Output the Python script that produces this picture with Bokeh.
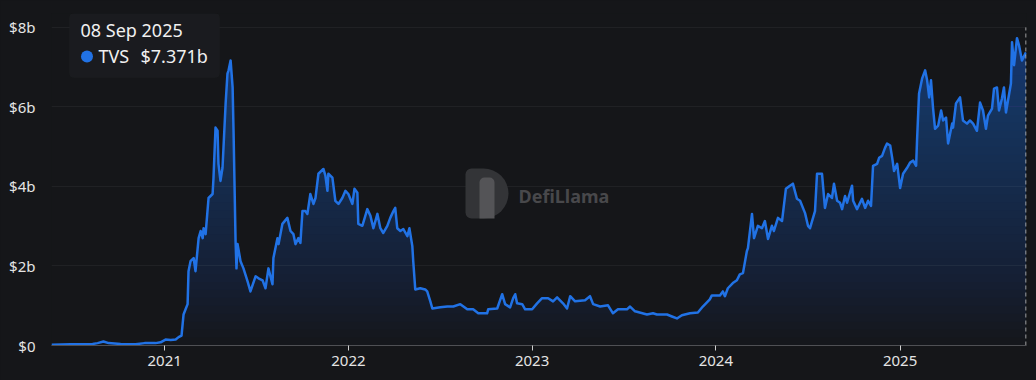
import numpy as np
import pandas as pd
from bokeh.plotting import figure
from bokeh.models import Range1d, FixedTicker, DatetimeTickFormatter, Label, BoxAnnotation
from bokeh.embed import file_html
from bokeh.resources import INLINE

# ---------------- data ----------------
t_year = [
    2020.386, 2020.489, 2020.609, 2020.636, 2020.668, 2020.696, 2020.761, 2020.842, 2020.891, 2020.951,
    2020.978, 2021.005, 2021.033, 2021.060, 2021.076, 2021.092, 2021.103, 2021.114, 2021.125, 2021.130,
    2021.141, 2021.158, 2021.168, 2021.185, 2021.196, 2021.207, 2021.212, 2021.223, 2021.239, 2021.261,
    2021.266, 2021.277, 2021.288, 2021.293, 2021.304, 2021.315, 2021.332, 2021.342, 2021.348, 2021.359,
    2021.370, 2021.375, 2021.386, 2021.391, 2021.397, 2021.413, 2021.429, 2021.451, 2021.467, 2021.495,
    2021.511, 2021.533, 2021.549, 2021.565, 2021.587, 2021.592, 2021.614, 2021.620, 2021.641, 2021.668,
    2021.685, 2021.701, 2021.712, 2021.728, 2021.739, 2021.750, 2021.766, 2021.777, 2021.793, 2021.810,
    2021.821, 2021.837, 2021.864, 2021.875, 2021.886, 2021.891, 2021.913, 2021.929, 2021.946, 2021.967,
    2021.984, 2022.000, 2022.022, 2022.033, 2022.049, 2022.054, 2022.076, 2022.103, 2022.120, 2022.136,
    2022.158, 2022.174, 2022.190, 2022.212, 2022.228, 2022.245, 2022.255, 2022.266, 2022.283, 2022.299,
    2022.321, 2022.332, 2022.348, 2022.353, 2022.364, 2022.391, 2022.418, 2022.429, 2022.446, 2022.457,
    2022.500, 2022.538, 2022.571, 2022.609, 2022.647, 2022.679, 2022.707, 2022.755, 2022.761, 2022.810,
    2022.837, 2022.853, 2022.880, 2022.897, 2022.908, 2022.918, 2022.946, 2022.962, 2023.000, 2023.027,
    2023.054, 2023.087, 2023.114, 2023.136, 2023.168, 2023.190, 2023.207, 2023.234, 2023.288, 2023.315,
    2023.332, 2023.370, 2023.413, 2023.440, 2023.467, 2023.516, 2023.533, 2023.560, 2023.625, 2023.658,
    2023.679, 2023.734, 2023.761, 2023.788, 2023.815, 2023.859, 2023.902, 2023.929, 2023.967, 2023.978,
    2024.022, 2024.038, 2024.049, 2024.065, 2024.092, 2024.114, 2024.130, 2024.147, 2024.168, 2024.174,
    2024.196, 2024.207, 2024.228, 2024.250, 2024.266, 2024.283, 2024.304, 2024.315, 2024.337, 2024.359,
    2024.380, 2024.402, 2024.418, 2024.440, 2024.457, 2024.484, 2024.500, 2024.511, 2024.538, 2024.549,
    2024.576, 2024.592, 2024.609, 2024.630, 2024.641, 2024.658, 2024.674, 2024.685, 2024.701, 2024.712,
    2024.739, 2024.745, 2024.766, 2024.793, 2024.810, 2024.826, 2024.842, 2024.853, 2024.875, 2024.886,
    2024.902, 2024.918, 2024.929, 2024.946, 2024.957, 2024.967, 2024.984, 2025.000, 2025.016, 2025.038,
    2025.054, 2025.071, 2025.087, 2025.092, 2025.103, 2025.120, 2025.136, 2025.147, 2025.158, 2025.168,
    2025.179, 2025.190, 2025.207, 2025.223, 2025.234, 2025.250, 2025.261, 2025.283, 2025.288, 2025.304,
    2025.326, 2025.342, 2025.364, 2025.380, 2025.397, 2025.418, 2025.435, 2025.451, 2025.467, 2025.478,
    2025.500, 2025.511, 2025.527, 2025.538, 2025.554, 2025.565, 2025.576, 2025.587, 2025.603, 2025.609,
    2025.620, 2025.636, 2025.647, 2025.663, 2025.685,
]
tvs_b = [
    0.02, 0.03, 0.04, 0.06, 0.10, 0.06, 0.04, 0.03, 0.06, 0.06,
    0.08, 0.15, 0.14, 0.15, 0.21, 0.25, 0.78, 0.91, 1.04, 1.87,
    2.12, 2.20, 1.87, 2.70, 2.88, 2.70, 2.95, 2.80, 3.71, 3.81,
    4.22, 5.48, 5.40, 4.57, 4.14, 4.47, 6.09, 6.84, 6.92, 7.17,
    6.49, 5.40, 2.63, 1.94, 2.55, 2.12, 1.94, 1.62, 1.36, 1.74,
    1.69, 1.64, 1.44, 1.94, 1.54, 2.20, 2.70, 2.55, 3.06, 3.21,
    2.88, 2.80, 2.55, 2.70, 2.58, 3.38, 3.38, 3.31, 3.81, 3.56,
    3.71, 4.32, 4.44, 4.27, 3.89, 4.32, 4.22, 3.64, 3.56, 3.71,
    3.89, 3.81, 3.56, 3.94, 3.84, 3.06, 3.01, 3.43, 3.26, 2.95,
    3.31, 2.95, 2.83, 3.01, 3.21, 3.38, 3.46, 2.95, 2.88, 2.93,
    2.75, 2.95, 2.50, 2.12, 1.41, 1.44, 1.41, 1.36, 1.11, 0.93,
    0.96, 0.98, 0.98, 1.04, 0.91, 0.91, 0.81, 0.81, 0.91, 0.93,
    1.29, 1.04, 0.96, 1.19, 1.29, 1.06, 1.04, 0.91, 0.91, 1.06,
    1.19, 1.19, 1.11, 1.21, 1.06, 0.93, 1.24, 1.11, 1.14, 1.24,
    1.04, 0.98, 1.01, 0.81, 0.91, 0.91, 0.98, 0.86, 0.78, 0.81,
    0.78, 0.78, 0.73, 0.68, 0.76, 0.81, 0.83, 0.98, 1.16, 1.26,
    1.26, 1.36, 1.24, 1.44, 1.57, 1.64, 1.79, 1.82, 2.37, 2.45,
    3.31, 2.70, 3.01, 2.95, 3.13, 2.68, 3.01, 2.88, 3.21, 3.13,
    3.94, 4.02, 4.07, 3.69, 3.64, 3.33, 3.01, 2.95, 3.38, 4.32,
    4.32, 3.46, 3.81, 3.71, 4.07, 3.64, 3.59, 3.43, 3.76, 3.59,
    4.02, 3.64, 3.43, 3.69, 3.46, 3.64, 3.51, 4.52, 4.57, 4.72,
    4.77, 4.97, 5.08, 5.03, 4.72, 4.39, 4.57, 3.96, 4.32, 4.47,
    4.60, 4.65, 4.52, 5.15, 6.34, 6.72, 6.92, 6.67, 6.24, 6.67,
    5.98, 5.45, 5.53, 5.91, 5.66, 5.73, 5.08, 5.58, 5.48, 6.09,
    6.24, 5.66, 5.58, 5.66, 5.58, 5.40, 6.11, 5.91, 5.45, 5.78,
    5.96, 6.46, 6.49, 5.91, 6.21, 6.49, 5.86, 6.16, 6.59, 7.63,
    7.05, 7.73, 7.55, 7.17, 7.371,
]
x_tick_years = [2021, 2022, 2023, 2024, 2025]
y_ticks = [0, 2, 4, 6, 8]
y_tick_labels = ["$0", "$2b", "$4b", "$6b", "$8b"]
series_name = "TVS"
tooltip_date = "08 Sep 2025"
watermark_text = "DefiLlama"

# ---------------- styling ----------------
BG = "#151619"
BLUE = "#2172e5"
FONT = "Noto Sans"
LABEL_COLOR = "#e4e4e4"


def year_to_ms(t):
    y = int(np.floor(t))
    start = pd.Timestamp(year=y, month=1, day=1)
    end = pd.Timestamp(year=y + 1, month=1, day=1)
    return (start + (t - y) * (end - start)).timestamp() * 1000.0


x_ms = np.array([year_to_ms(t) for t in t_year])
v = np.array(tvs_b, dtype=float)

DAY = 86400000.0
xr0, xr1 = x_ms[0], x_ms[-1] + DAY
yr0, yr1 = 0.0, 8.35

W, H = 1036, 380
FX0, FX1, FY0, FY1 = 51.0, 1026.0, 13.0, 345.0   # plot frame, in page pixels

p = figure(
    width=W, height=H,
    x_axis_type="datetime",
    x_range=Range1d(xr0, xr1), y_range=Range1d(yr0, yr1),
    output_backend="svg", toolbar_location=None,
    min_border_left=int(FX0), min_border_right=int(W - FX1),
    min_border_top=int(FY0), min_border_bottom=int(H - FY1),
    background_fill_color=BG, border_fill_color=BG, outline_line_color=None,
)


def px_x(px):
    return xr0 + (px - FX0) / (FX1 - FX0) * (xr1 - xr0)


def px_y(py):
    return yr1 - (py - FY0) / (FY1 - FY0) * (yr1 - yr0)


# ---------------- watermark ----------------
p.add_layout(BoxAnnotation(left=px_x(465), right=px_x(508), top=px_y(168), bottom=px_y(218),
                           fill_color="#333437", fill_alpha=1, line_color=None,
                           border_radius=dict(top_left=6, bottom_left=6, top_right=25, bottom_right=25),
                           level="underlay"))
p.add_layout(BoxAnnotation(left=px_x(479), right=px_x(494), top=px_y(177), bottom=px_y(218),
                           fill_color="#545457", fill_alpha=1, line_color=None,
                           border_radius=dict(top_left=5, top_right=5, bottom_right=0, bottom_left=0),
                           level="underlay"))
p.add_layout(Label(x=px_x(518), y=px_y(195), text=watermark_text, text_font=FONT,
                   text_font_style="bold", text_font_size="18px", text_color="#48484b",
                   text_baseline="middle", level="underlay"))

# ---------------- gradient area (stacked translucent layers) ----------------
K = 40
for k in range(K):
    lvl = k * 8.0 / K
    if lvl >= v.max():
        break
    p.varea(x=x_ms, y1=np.minimum(v, lvl), y2=v, fill_color=BLUE, fill_alpha=0.018)

# ---------------- line ----------------
p.line(x_ms, v, line_color=BLUE, line_width=2.5, line_join="round")

# crosshair at the last point
p.segment(x0=[x_ms[-1]], y0=[0], x1=[x_ms[-1]], y1=[y_ticks[-1]],
          line_color="#c8c8c8", line_dash="4 3", line_width=1)

# ---------------- tooltip ----------------
p.add_layout(BoxAnnotation(left=px_x(69), right=px_x(219), top=px_y(13), bottom=px_y(77),
                           fill_color="#1a1b1f", fill_alpha=1, line_color="#1f2024",
                           border_radius=4, level="underlay"))
p.add_layout(Label(x=px_x(80), y=px_y(29), text=tooltip_date, text_font=FONT,
                   text_font_size="18px", text_color="#f0f0f0", text_baseline="middle"))
p.scatter([px_x(86.5)], [px_y(56)], size=12, marker="circle", fill_color=BLUE, line_color=None)
p.add_layout(Label(x=px_x(98), y=px_y(55), text=series_name, text_font=FONT,
                   text_font_size="18px", text_color="#f0f0f0", text_baseline="middle"))
p.add_layout(Label(x=px_x(140), y=px_y(55), text=f"${tvs_b[-1]:.3f}b", text_font=FONT,
                   text_font_size="18px", text_color="#f0f0f0", text_baseline="middle"))

# ---------------- axes & grid ----------------
p.xgrid.visible = False
p.ygrid.ticker = FixedTicker(ticks=y_ticks)
p.ygrid.grid_line_color = "#202124"

p.yaxis.ticker = FixedTicker(ticks=y_ticks)
p.yaxis.major_label_overrides = {t: lab for t, lab in zip(y_ticks, y_tick_labels)}
p.yaxis.axis_line_color = None
p.yaxis.major_tick_line_color = None
p.yaxis.minor_tick_line_color = None
p.yaxis.major_label_standoff = 10
p.yaxis.major_label_text_font = FONT
p.yaxis.major_label_text_font_size = "15px"
p.yaxis.major_label_text_color = LABEL_COLOR

p.xaxis.ticker = FixedTicker(ticks=[year_to_ms(y) for y in x_tick_years])
p.xaxis.formatter = DatetimeTickFormatter(years="%Y", months="%Y", days="%Y", hours="%Y")
p.xaxis.axis_line_color = "#4f5054"
p.xaxis.major_tick_line_color = "#d0d0d0"
p.xaxis.major_tick_out = 5
p.xaxis.major_tick_in = 0
p.xaxis.minor_tick_line_color = None
p.xaxis.major_label_standoff = 5
p.xaxis.major_label_text_font = FONT
p.xaxis.major_label_text_font_size = "15px"
p.xaxis.major_label_text_color = LABEL_COLOR

html = file_html(p, INLINE, title="TVS")
html = html.replace("</head>", "<style>html,body{background:%s;}</style></head>" % BG, 1)
open("out.html", "w").write(html)
